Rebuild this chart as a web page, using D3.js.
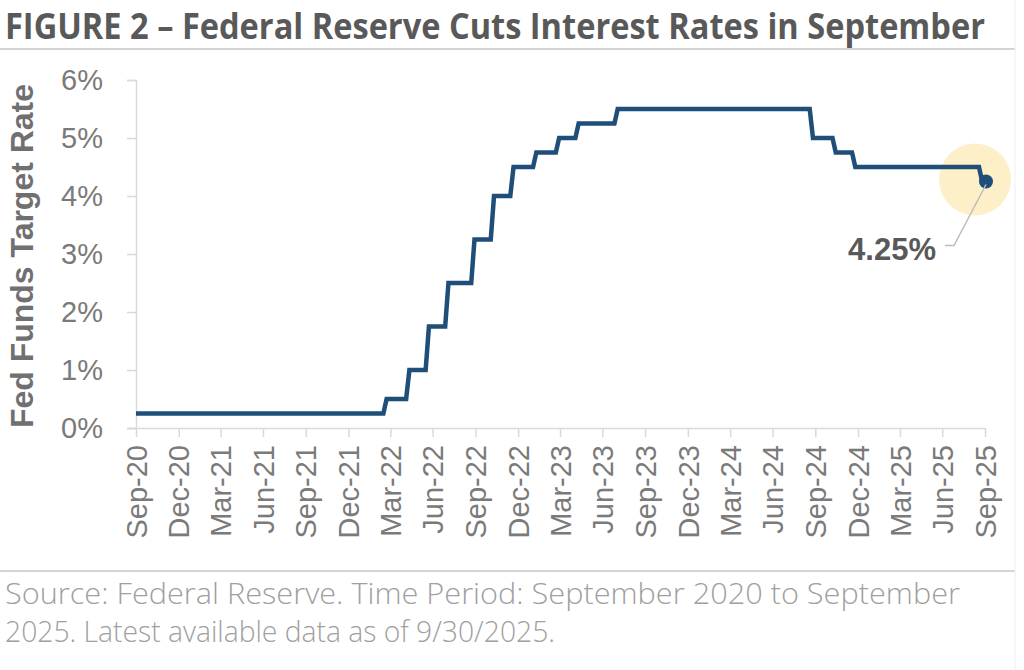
<!DOCTYPE html>
<html>
<head>
<meta charset="utf-8">
<script src="https://cdn.jsdelivr.net/npm/d3@7"></script>
<style>
  body { margin: 0; background: #fff; }
  svg { display: block; }
</style>
</head>
<body>
<svg id="chart"></svg>
<script>
// weekly (Wednesday) observations of the fed funds target upper bound, around each change
const obsDates = ["2020-09-30", "2022-03-16", "2022-03-23", "2022-05-04", "2022-05-11",
  "2022-06-15", "2022-06-22", "2022-07-27", "2022-08-03", "2022-09-21", "2022-09-28",
  "2022-11-02", "2022-11-09", "2022-12-14", "2022-12-21", "2023-02-01", "2023-02-08",
  "2023-03-22", "2023-03-29", "2023-05-03", "2023-05-10", "2023-07-26", "2023-08-02",
  "2024-09-18", "2024-09-25", "2024-11-06", "2024-11-13", "2024-12-18", "2024-12-25",
  "2025-09-17", "2025-09-24", "2025-09-30"];
const obsRates = [0.25, 0.25, 0.50, 0.50, 1.00,
  1.00, 1.75, 1.75, 2.50, 2.50, 3.25,
  3.25, 4.00, 4.00, 4.50, 4.50, 4.75,
  4.75, 5.00, 5.00, 5.25, 5.25, 5.50,
  5.50, 5.00, 5.00, 4.75, 4.75, 4.50,
  4.50, 4.25, 4.25];
const xTickLabels = ["Sep-20", "Dec-20", "Mar-21", "Jun-21", "Sep-21", "Dec-21", "Mar-22",
  "Jun-22", "Sep-22", "Dec-22", "Mar-23", "Jun-23", "Sep-23", "Dec-23", "Mar-24", "Jun-24",
  "Sep-24", "Dec-24", "Mar-25", "Jun-25", "Sep-25"];
const yTicks = [0, 1, 2, 3, 4, 5, 6];

const titleText = "FIGURE 2 \u2013 Federal Reserve Cuts Interest Rates in September";
const yTitle = "Fed Funds Target Rate";
const sourceLines = ["Source: Federal Reserve. Time Period: September 2020 to September",
  "2025. Latest available data as of 9/30/2025."];

const W = 1024, H = 670;
const margin = {top: 80, right: 39, bottom: 242, left: 136};
const lineColor = "#1f4e79";
const axisColor = "#d9d9d9";
const tickText = "#7a7a7a";

const svg = d3.select("#chart").attr("width", W).attr("height", H);

const parseDay = d3.utcParse("%Y-%m-%d");
const parseMon = d3.utcParse("%b-%y");
// ticks sit on the last day of each quarter-end month
const tickDates = xTickLabels.map(l => d3.utcDay.offset(d3.utcMonth.offset(parseMon(l), 1), -1));
const data = obsDates.map((d, i) => ({date: parseDay(d), rate: obsRates[i]}));

const xScale = d3.scaleUtc()
  .domain([tickDates[0], tickDates[tickDates.length - 1]])
  .range([margin.left, W - margin.right]);
const yScale = d3.scaleLinear().domain([0, 6]).range([H - margin.bottom, margin.top]);

// title + rules
svg.append("text").attr("x", 5).attr("y", 39)
  .text(titleText)
  .attr("textLength", 980).attr("lengthAdjust", "spacingAndGlyphs")
  .style("font-family", "'Open Sans', sans-serif").style("font-weight", "bold")
  .style("font-size", "35px").style("fill", "#595959");
svg.append("line").attr("x1", 0).attr("x2", 1015).attr("y1", 49).attr("y2", 49)
  .style("stroke", "#d4d4d4").style("stroke-width", 2);
svg.append("line").attr("x1", 0).attr("x2", 1015).attr("y1", 571).attr("y2", 571)
  .style("stroke", "#d4d4d4").style("stroke-width", 2);
svg.append("line").attr("x1", 1015).attr("x2", 1015).attr("y1", 0).attr("y2", H)
  .style("stroke", "#f0f0f0").style("stroke-width", 1);

// axes
const yAxis = svg.append("g").attr("transform", "translate(" + margin.left + ",0)")
  .call(d3.axisLeft(yScale).tickValues(yTicks).tickSize(9).tickPadding(24)
    .tickFormat(d => d + "%"));
yAxis.select(".domain").style("stroke", axisColor).style("stroke-width", 1.5);
yAxis.selectAll(".tick line").style("stroke", axisColor).style("stroke-width", 1.5);
yAxis.selectAll(".tick text")
  .style("font-family", "'Liberation Sans', Arial, sans-serif").style("font-size", "29px")
  .style("fill", tickText);

const xAxis = svg.append("g").attr("transform", "translate(0," + yScale(0) + ")")
  .call(d3.axisBottom(xScale).tickValues(tickDates).tickSize(9).tickSizeOuter(0)
    .tickFormat((d, i) => xTickLabels[i]));
xAxis.select(".domain").attr("d", "M" + (margin.left - 9) + ",0.5H" + (W - margin.right))
  .style("stroke", axisColor).style("stroke-width", 1.5);
xAxis.selectAll(".tick line").style("stroke", axisColor).style("stroke-width", 1.5);
xAxis.selectAll(".tick text")
  .attr("transform", "rotate(-90)")
  .attr("x", -17).attr("y", 0).attr("dy", "0.35em")
  .style("text-anchor", "end")
  .style("font-family", "'Liberation Sans', Arial, sans-serif").style("font-size", "29px")
  .style("fill", tickText);

// y axis title
svg.append("text")
  .attr("transform", "translate(33," + ((yScale(0) + yScale(6)) / 2 + 2) + ") rotate(-90)")
  .attr("text-anchor", "middle")
  .text(yTitle)
  .attr("textLength", 344).attr("lengthAdjust", "spacingAndGlyphs")
  .style("font-family", "'Liberation Sans', Arial, sans-serif").style("font-weight", "bold")
  .style("font-size", "31px").style("fill", "#707070");

// highlight behind last point
const last = data[data.length - 1];
const lx = xScale(last.date), ly = yScale(last.rate);
svg.append("circle").attr("cx", lx - 10).attr("cy", ly - 2).attr("r", 36)
  .style("fill", "#fdf0c8");

// the line
const line = d3.line().x(d => xScale(d.date)).y(d => yScale(d.rate));
svg.append("path").datum(data).attr("d", line)
  .style("fill", "none").style("stroke", lineColor).style("stroke-width", 4.5)
  .style("stroke-linejoin", "miter");

svg.append("circle").attr("cx", lx + 1).attr("cy", ly).attr("r", 7)
  .style("fill", lineColor);

// callout
svg.append("path")
  .attr("d", "M" + (lx + 1) + "," + (ly + 3) + "L" + (lx - 31) + "," + (ly + 64) + "H" + (lx - 40))
  .style("fill", "none").style("stroke", "#bdbdbd").style("stroke-width", 1.5);
svg.append("text").attr("x", lx - 49).attr("y", ly + 78)
  .attr("text-anchor", "end")
  .text(d3.format(".2f")(last.rate) + "%")
  .style("font-family", "'Liberation Sans', Arial, sans-serif").style("font-weight", "bold")
  .style("font-size", "31px").style("fill", "#595959");

// source note
svg.selectAll(".src").data(sourceLines).join("text").attr("class", "src")
  .attr("x", 5).attr("y", (d, i) => 604 + i * 38)
  .text(d => d)
  .attr("textLength", (d, i) => i == 0 ? 955 : 550).attr("lengthAdjust", "spacingAndGlyphs")
  .style("font-family", "'Open Sans', sans-serif").style("font-weight", 300)
  .style("font-size", "29px").style("fill", "#a0a0a0");
</script>
</body>
</html>
